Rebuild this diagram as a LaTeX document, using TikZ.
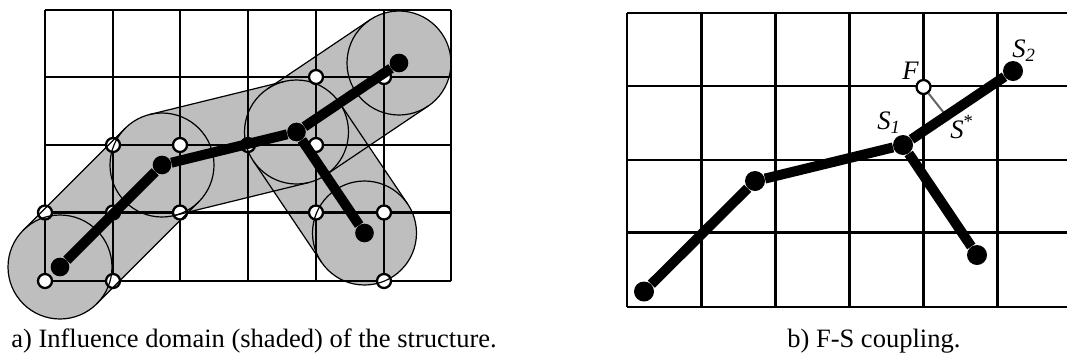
\documentclass[tikz,border=0pt]{standalone}
\usepackage{fontspec}
\setmainfont{Liberation Serif}
\usepackage{tikz}
\usetikzlibrary{calc}
\definecolor{domaingrey}{HTML}{BEBEBE}
\definecolor{ink}{HTML}{000000}
\newcommand{\rad}{39pt}
\tikzset{gridline/.style={draw=ink,line width=1.7pt},
  outline/.style={draw=ink,line width=.9pt},
  bar/.style={draw=ink,line width=7.5pt},
  joint/.style={circle,fill=ink,inner sep=0pt,minimum size=14pt},
  fluid/.style={circle,draw=ink,fill=white,line width=1.7pt,inner sep=0pt,minimum size=10.5pt},
  caption/.style={font=\fontsize{19.9}{22}\selectfont,anchor=base west,inner sep=0pt},
  lab/.style={font=\fontsize{20}{22}\selectfont\itshape,anchor=base west,inner sep=0pt}}

\begin{document}
\begin{tikzpicture}[x=.75pt,y=-.75pt]
\useasboundingbox (0,0) rectangle (1067,358);
% structure a)
\foreach \n/\x/\y in {p1/60/267,p2/162/165,p3/296.5/132,p4/399/63,p5/364.5/233}{
 \coordinate (\n) at (\x,\y);}

% shaded domain
\foreach \a/\b in {p1/p2,p2/p3,p3/p4,p3/p5}{
 \draw[domaingrey,line width=78pt,line cap=round] (\a)--(\b);}

% grid a)
\foreach \x in {45,113,180,248,316,384,451}{
 \draw[gridline] (\x,10)--(\x,281);}
\foreach \y in {10,77,145,212.5,281}{
 \draw[gridline] (45,\y)--(451,\y);}

\foreach \n/\x/\y in {f1/113/145,f2/180/145,f3/248/145,f4/316/77,f5/384/77,f6/316/145,
  f7/45/212.5,f8/113/212.5,f9/180/212.5,f10/45/281,f11/113/281,f12/316/212.5,f13/384/212.5,f14/384/281}{
 \node[fluid] (\n) at (\x,\y) {};}

% outline of the domain
\foreach \n in {p1,p2,p3,p4,p5}{
 \draw[outline] (\n) circle (\rad);}
\foreach \a/\b in {p1/p2,p2/p3,p3/p4,p3/p5}{
 \draw[outline] ($(\a)!\rad!90:(\b)$)--($(\b)!\rad!-90:(\a)$);
 \draw[outline] ($(\a)!\rad!-90:(\b)$)--($(\b)!\rad!90:(\a)$);}

\foreach \n in {1,...,5}{
 \node[joint] (a\n) at (p\n) {};}
\draw[bar] (a1)--(a2);
\draw[bar] (a2)--(a3);
\draw[bar] (a3)--(a4);
\draw[bar] (a3)--(a5);

% grid b)
\foreach \x in {627,701.5,775.5,849.5,923.5,997.5}{
 \draw[gridline] (\x,13)--(\x,307);}
\foreach \y in {13,86,160,232.5,307}{
 \draw[gridline] (627,\y)--(1067,\y);}

\foreach \n/\x/\y in {b1/644/291.5,b2/755/181,b3/903/145,b4/1013/71,b5/977/255}{
 \node[joint,minimum size=15pt] (\n) at (\x,\y) {};}
\node[fluid] (F) at (923.5,87) {};
\coordinate (Sstar) at (944,113);
\draw[ink!60,line width=1.5pt] (F)--(Sstar);
\draw[bar] (b1)--(b2);
\draw[bar] (b2)--(b3);
\draw[bar] (b3)--(b4);
\draw[bar] (b3)--(b5);

\node[lab] (lF) at (902,79) {F};
\node[lab] (lS1) at (877,129) {S\textsubscript{\itshape 1}};
\node[lab] (lS2) at (1012,57) {S\textsubscript{2}};
\node[lab] (lSs) at (950,138) {S\textsuperscript{\upshape *}};

\node[caption] (capa) at (11,347) {a) Influence domain (shaded) of the structure.};
\node[caption] (capb) at (787,347) {b) F-S coupling.};
\end{tikzpicture}
\end{document}
